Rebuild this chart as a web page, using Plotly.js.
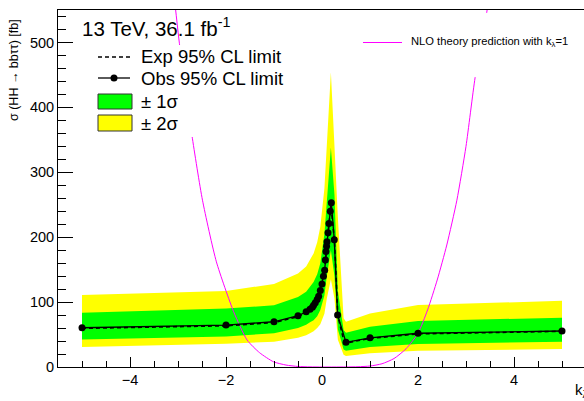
<!DOCTYPE html>
<html><head><meta charset="utf-8">
<script src="https://cdn.plot.ly/plotly-3.0.1.min.js"></script>
<style>html,body{margin:0;padding:0;overflow:hidden;background:#fff}#c{width:586px;height:401px}</style>
</head><body><div id="c"></div>
<script>
// Observed limit points (kλ, σ in fb)
const obsK = [-5, -2, -1, -0.5, -0.33, -0.25, -0.2, -0.175, -0.14, -0.1, -0.07, -0.035, 0.0, 0.03, 0.055, 0.07, 0.083, 0.095, 0.104, 0.125, 0.145, 0.173, 0.194, 0.256, 0.325, 0.5, 1, 2, 5];
const obsV = [60.5, 64.6, 69.7, 79, 85, 89, 92, 95, 99, 104, 109, 118, 128, 140, 149, 165, 178, 186, 193, 207, 221, 240, 253, 196, 80, 38, 45, 52, 55.5];
// Expected limit and bands
const expK = [-5, -2, -1, -0.5, -0.33, -0.25, -0.175, -0.1, -0.035, 0.05, 0.1, 0.14, 0.185, 0.26, 0.33, 0.45, 0.5, 1, 2, 5];
const expV = [59.5, 63.5, 68.5, 77.5, 84, 88, 93, 101, 116, 147, 189, 219, 250, 194, 79, 42, 37, 44, 51, 55];
const p1V  = [83.5, 90, 95, 108, 116, 124, 131, 143, 160, 205, 260, 300, 338, 265, 118, 57, 52.8, 62, 71, 76];
const m1V  = [42.5, 47, 52, 60, 65, 69, 72, 78, 88, 110, 140, 160, 180, 140, 58, 27, 25, 31, 35.4, 39];
const p2V  = [111, 117, 128, 144, 155, 166, 175, 192, 216, 275, 340, 400, 454, 340, 231, 75, 69.7, 82.6, 95.4, 102];
const m2V  = [31, 36, 39, 45, 49, 52, 55, 60, 66, 82, 105, 120, 135, 105, 42, 19, 17, 21, 25, 27.7];
// NLO theory prediction
const thK = [-3.15, -2.97, -2.71, -2.49, -2.2, -1.84, -1.56, -1.3, -1.01, -0.75, -0.5, -0.25, 0, 0.25, 0.5, 0.75, 1.0, 1.25, 1.5, 1.75, 2.0, 2.2, 2.4, 2.6, 2.81, 3.0, 3.19, 3.44, 3.55];
const thV = [620, 498, 357, 257, 162, 85, 41.5, 22, 8, 3, 0.8, 0.2, 0, 0, 0.1, 0.4, 1.5, 5, 13, 28, 52, 88, 134, 188, 257, 340, 446, 550, 610];

const rev = a => a.slice().reverse();
const band = (up, lo) => ({x: expK.concat(rev(expK)), y: up.concat(rev(lo))});
const b2 = band(p2V, m2V), b1 = band(p1V, m1V);

const traces = [
  {x: b2.x, y: b2.y, fill: 'toself', fillcolor: '#ffff00', line: {width: 0}, mode: 'lines', hoverinfo: 'skip'},
  {x: b1.x, y: b1.y, fill: 'toself', fillcolor: '#00ff00', line: {width: 0}, mode: 'lines', hoverinfo: 'skip'},
  {x: thK, y: thV, mode: 'lines', line: {color: '#ff00ff', width: 1, shape: 'spline', smoothing: 0.6}},
  {x: expK, y: expV, mode: 'lines', line: {color: '#000', width: 1.6, dash: '4px,3px'}},
  {x: obsK, y: obsV, mode: 'lines+markers', line: {color: '#000', width: 1.3}, marker: {color: '#000', size: 7}}
];

const L = 58, T = 10, W = 528, H = 357;
const px = x => (x - L) / W;
const py = y => (T + H - y) / H;
const F = 'Liberation Sans, Arial, sans-serif';

const shapes = [
  {type: 'rect', xref: 'paper', yref: 'paper', x0: px(92), x1: px(300), y0: py(137), y1: py(45), fillcolor: '#fff', line: {width: 0}, layer: 'above'},
  {type: 'rect', xref: 'paper', yref: 'paper', x0: px(355), x1: px(600), y0: py(77), y1: py(13), fillcolor: '#fff', line: {width: 0}, layer: 'above'},
  {type: 'line', xref: 'paper', yref: 'paper', x0: px(98), x1: px(130), y0: py(57), y1: py(57), line: {color: '#000', width: 1.6, dash: '4px,3px'}},
  {type: 'line', xref: 'paper', yref: 'paper', x0: px(98), x1: px(130), y0: py(78), y1: py(78), line: {color: '#000', width: 1.3}},
  {type: 'circle', xref: 'paper', yref: 'paper', x0: px(110.5), x1: px(117.5), y0: py(81.5), y1: py(74.5), fillcolor: '#000', line: {width: 0}},
  {type: 'rect', xref: 'paper', yref: 'paper', x0: px(98), x1: px(132), y0: py(109), y1: py(94), fillcolor: '#00ff00', line: {color: '#333', width: 1}},
  {type: 'rect', xref: 'paper', yref: 'paper', x0: px(98), x1: px(132), y0: py(131), y1: py(115), fillcolor: '#ffff00', line: {color: '#333', width: 1}},
  {type: 'line', xref: 'paper', yref: 'paper', x0: px(363), x1: px(402), y0: py(42.5), y1: py(42.5), line: {color: '#ff00ff', width: 1}}
];

const ann = (x, y, text, size, xanchor, extra) => Object.assign({xref: 'paper', yref: 'paper', x: px(x), y: py(y), text, showarrow: false, xanchor: xanchor || 'left', yanchor: 'middle', font: {family: F, size, color: '#000'}}, extra || {});

const annotations = [
  ann(80, 27, '13 TeV, 36.1 fb<sup>-1</sup>', 20.5),
  ann(139, 57, 'Exp 95% CL limit', 18.5),
  ann(139, 78, 'Obs 95% CL limit', 18.5),
  ann(139, 101, '± 1σ', 18.5),
  ann(139, 123, '± 2σ', 18.5),
  ann(409, 42, 'NLO theory prediction with k<sub>λ</sub>=1', 11.2),
  ann(14, 70, 'σ (HH → bbττ) [fb]', 12.5, 'center', {textangle: -90}),
  ann(573, 390, 'k<sub>λ</sub>', 15)
];

const layout = {
  width: 586, height: 401,
  margin: {l: L, r: 0, t: T, b: 401 - T - H, pad: 0},
  paper_bgcolor: '#fff', plot_bgcolor: '#fff',
  showlegend: false,
  font: {family: F, color: '#000'},
  xaxis: {
    range: [-5.5, 5.5], showgrid: false, zeroline: false,
    showline: true, linecolor: '#000', linewidth: 1, mirror: true,
    ticks: 'inside', ticklen: 10, tickwidth: 1, tickcolor: '#000',
    tickvals: [-4, -2, 0, 2, 4], ticktext: ['−4', '−2', '0', '2', '4'],
    tickfont: {family: F, size: 14.5, color: '#000'},
    minor: {dtick: 0.5, tick0: 0, ticks: 'inside', ticklen: 6, tickcolor: '#000', tickwidth: 1, showgrid: false}
  },
  yaxis: {
    range: [0, 550], showgrid: false, zeroline: false,
    showline: true, linecolor: '#000', linewidth: 1, mirror: true,
    ticks: 'inside', ticklen: 15, tickwidth: 1, tickcolor: '#000',
    dtick: 100, tick0: 0,
    tickfont: {family: F, size: 14.5, color: '#000'},
    minor: {dtick: 20, tick0: 0, ticks: 'inside', ticklen: 8, tickcolor: '#000', tickwidth: 1, showgrid: false}
  },
  shapes, annotations
};

Plotly.newPlot('c', traces, layout, {staticPlot: true, displayModeBar: false});
</script></body></html>
